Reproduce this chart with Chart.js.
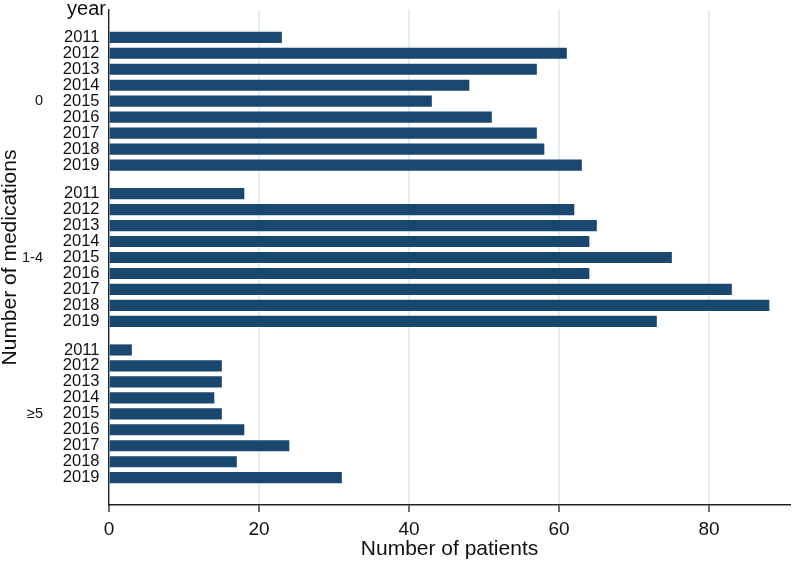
<!DOCTYPE html>
<html><head><meta charset="utf-8">
<script src="https://cdn.jsdelivr.net/npm/chart.js@4.4.1/dist/chart.umd.min.js"></script>
<style>html,body{margin:0;padding:0;background:#fff}</style>
</head><body>
<canvas id="c" width="794" height="565"></canvas>
<script>
// ---- data ----
const years = ['2011','2012','2013','2014','2015','2016','2017','2018','2019'];
const groups = ['0','1-4','\u22655'];
const patients0 = [23,61,57,48,43,51,57,58,63];
const patients1to4 = [18,62,65,64,75,64,83,88,73];
const patients5plus = [3,15,15,14,15,18,24,17,31];
const xTicks = [0,20,40,60,80];

// ---- layout helpers (not data) ----
const GROUP_STEP = 9.79;   // slots between group starts (9 bars + gap)
const EDGE = 1.71;         // outer gap in slots
const FONT = '"Liberation Sans", Arial, Helvetica, sans-serif';
const series = [patients0, patients1to4, patients5plus];
const points = [], yearPos = [], yearLab = [], groupPos = [];
series.forEach((vals, g) => {
  vals.forEach((v, i) => {
    const p = g * GROUP_STEP + i;
    points.push({x: v, y: p});
    yearPos.push(p);
    yearLab.push(years[i]);
  });
  groupPos.push(g * GROUP_STEP + (years.length - 1) / 2);
});
const yMin = -EDGE;
const yMax = (series.length - 1) * GROUP_STEP + (years.length - 1) + EDGE;

const yearLabelPlugin = {
  id: 'yearLabel',
  afterDraw(chart) {
    const ctx = chart.ctx;
    ctx.save();
    ctx.font = '20px ' + FONT;
    ctx.fillStyle = '#111';
    ctx.textAlign = 'right';
    ctx.textBaseline = 'alphabetic';
    ctx.fillText('year', chart.chartArea.left - 3, 15);
    ctx.restore();
  }
};

const noPadV = s => { s.paddingTop = 0; s.paddingBottom = 0; };

new Chart(document.getElementById('c'), {
  type: 'bar',
  data: {
    datasets: [{
      data: points,
      backgroundColor: '#1a476f',
      borderWidth: 0,
      barThickness: 10.5,
      yAxisID: 'y'
    }]
  },
  plugins: [yearLabelPlugin],
  options: {
    indexAxis: 'y',
    responsive: false,
    animation: false,
    layout: {padding: {left: 0, right: 4, top: 10, bottom: 0}},
    plugins: {legend: {display: false}, tooltip: {enabled: false}},
    scales: {
      x: {
        type: 'linear',
        min: 0, max: 90.8,
        afterBuildTicks: s => { s.ticks = xTicks.map(v => ({value: v})); },
        afterFit: s => { s.height = 60; s.paddingLeft = 0; s.paddingRight = 0; },
        grid: {
          color: c => (c.tick && c.tick.value === 0) ? 'rgba(0,0,0,0)' : '#e4eeef',
          lineWidth: 2,
          drawTicks: true,
          tickLength: 7,
          tickColor: '#222',
          tickWidth: 1.3
        },
        border: {display: true, color: '#222', width: 1.4},
        ticks: {color: '#111', font: {family: FONT, size: 19}, padding: 6, maxRotation: 0},
        title: {display: true, text: 'Number of patients', color: '#111',
                font: {family: FONT, size: 21, lineHeight: 1.2}, padding: {top: 0, bottom: 3}}
      },
      y: {
        type: 'linear',
        position: 'left',
        weight: 0,
        reverse: true,
        offset: false,
        min: yMin, max: yMax,
        afterBuildTicks: s => { s.ticks = yearPos.map(v => ({value: v})); },
        afterFit: s => { s.width = 59; noPadV(s); },
        grid: {display: false, drawTicks: false, offset: false},
        border: {display: true, color: '#222', width: 1.4},
        ticks: {autoSkip: false, color: '#111', font: {family: FONT, size: 16.5}, padding: 9.5,
                callback: (v, i) => yearLab[i]}
      },
      yg: {
        type: 'linear',
        position: 'left',
        weight: 1,
        reverse: true,
        offset: false,
        min: yMin, max: yMax,
        afterBuildTicks: s => { s.ticks = groupPos.map(v => ({value: v})); },
        afterFit: s => { s.width = 50; noPadV(s); },
        grid: {display: false, drawTicks: false, offset: false},
        border: {display: false},
        ticks: {autoSkip: false, color: '#111', font: {family: FONT, size: 14.5}, padding: 7,
                callback: (v, i) => groups[i]},
        title: {display: true, text: 'Number of medications', color: '#111',
                font: {family: FONT, size: 21, lineHeight: 1}, padding: {top: 0, bottom: 0}}
      }
    }
  }
});
</script>
</body></html>
